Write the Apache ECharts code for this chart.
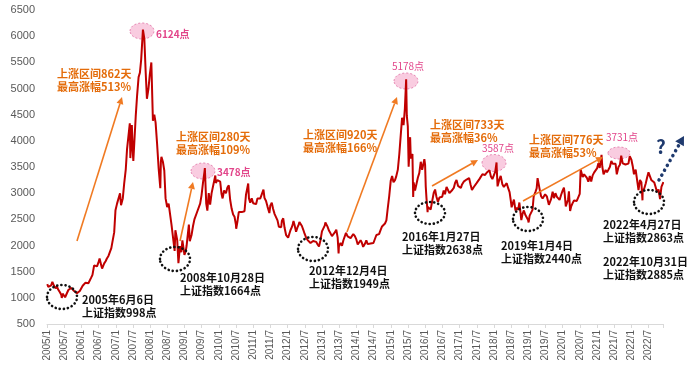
<!DOCTYPE html>
<html><head><meta charset="utf-8">
<script src="https://cdn.jsdelivr.net/npm/echarts@6/dist/echarts.min.js"></script>
<style>html,body{margin:0;padding:0;background:#fff}#c{width:700px;height:372px}</style>
</head><body><div id="c"></div>
<script>
// Shanghai Composite, approximate readings (date -> index level)
const dates = [
'2005-01-04','2005-01-15','2005-01-31','2005-02-15','2005-02-28','2005-03-15','2005-03-31','2005-04-15','2005-04-29','2005-05-15','2005-05-31','2005-06-06','2005-06-15','2005-06-30','2005-07-11','2005-07-29','2005-08-15','2005-08-31','2005-09-15','2005-09-30','2005-10-15','2005-10-31','2005-11-15','2005-11-30','2005-12-15','2005-12-30',
'2006-01-15','2006-01-26','2006-02-15','2006-02-28','2006-03-15','2006-03-31','2006-04-15','2006-04-28','2006-05-15','2006-05-31','2006-06-15','2006-06-30','2006-07-12','2006-07-31','2006-08-08','2006-08-31','2006-09-15','2006-09-29','2006-10-15','2006-10-31','2006-11-15','2006-11-30','2006-12-15','2006-12-29',
'2007-01-15','2007-01-31','2007-02-16','2007-02-27','2007-03-15','2007-03-30','2007-04-16','2007-04-30','2007-05-29','2007-05-31','2007-06-04','2007-06-20','2007-06-29','2007-07-05','2007-07-31','2007-08-15','2007-08-31','2007-09-14','2007-09-28','2007-10-16','2007-10-31','2007-11-15','2007-11-28','2007-12-14','2007-12-28',
'2008-01-14','2008-01-31','2008-02-15','2008-02-29','2008-03-14','2008-03-31','2008-04-18','2008-04-24','2008-04-30','2008-05-15','2008-05-30','2008-06-13','2008-06-30','2008-07-15','2008-07-31','2008-08-15','2008-08-29','2008-09-18','2008-09-26','2008-10-15','2008-10-28','2008-11-14','2008-11-28','2008-12-09','2008-12-31',
'2009-01-15','2009-01-23','2009-02-17','2009-02-27','2009-03-15','2009-03-31','2009-04-15','2009-04-30','2009-05-15','2009-05-27','2009-06-15','2009-06-30','2009-07-15','2009-07-31','2009-08-04','2009-08-19','2009-08-31','2009-09-15','2009-09-30','2009-10-15','2009-10-30','2009-11-24','2009-11-30','2009-12-15','2009-12-31',
'2010-01-15','2010-01-29','2010-02-10','2010-02-26','2010-03-15','2010-03-31','2010-04-15','2010-04-30','2010-05-15','2010-05-31','2010-06-15','2010-06-30','2010-07-02','2010-07-15','2010-07-30','2010-08-15','2010-08-31','2010-09-15','2010-09-30','2010-10-15','2010-10-29','2010-11-08','2010-11-16','2010-11-30','2010-12-15','2010-12-31',
'2011-01-15','2011-01-31','2011-02-15','2011-02-28','2011-03-15','2011-03-31','2011-04-18','2011-04-29','2011-05-15','2011-05-31','2011-06-20','2011-06-30','2011-07-15','2011-07-29','2011-08-15','2011-08-31','2011-09-15','2011-09-30','2011-10-24','2011-10-31','2011-11-15','2011-11-30','2011-12-15','2011-12-30',
'2012-01-06','2012-01-31','2012-02-15','2012-02-29','2012-03-02','2012-03-15','2012-03-30','2012-04-15','2012-04-27','2012-05-04','2012-05-31','2012-06-15','2012-06-29','2012-07-15','2012-07-31','2012-08-15','2012-08-31','2012-09-15','2012-09-28','2012-10-15','2012-10-31','2012-11-15','2012-11-30','2012-12-04','2012-12-15','2012-12-31',
'2013-01-15','2013-01-31','2013-02-06','2013-02-28','2013-03-15','2013-03-29','2013-04-15','2013-04-26','2013-05-15','2013-05-31','2013-06-15','2013-06-25','2013-06-28','2013-07-15','2013-07-31','2013-08-15','2013-08-30','2013-09-12','2013-09-30','2013-10-15','2013-10-31','2013-11-15','2013-11-29','2013-12-15','2013-12-31',
'2014-01-15','2014-01-30','2014-02-15','2014-02-28','2014-03-12','2014-03-31','2014-04-15','2014-04-30','2014-05-15','2014-05-30','2014-06-15','2014-06-30','2014-07-15','2014-07-31','2014-08-15','2014-08-29','2014-09-15','2014-09-30','2014-10-15','2014-10-31','2014-11-15','2014-11-28','2014-12-15','2014-12-31',
'2015-01-15','2015-01-30','2015-02-15','2015-02-27','2015-03-15','2015-03-31','2015-04-15','2015-04-30','2015-05-15','2015-05-29','2015-06-12','2015-06-19','2015-06-30','2015-07-08','2015-07-24','2015-07-31','2015-08-18','2015-08-26','2015-08-31','2015-09-15','2015-09-30','2015-10-15','2015-10-30','2015-11-15','2015-11-30','2015-12-23','2015-12-31',
'2016-01-07','2016-01-15','2016-01-27','2016-01-29','2016-02-15','2016-02-29','2016-03-15','2016-03-31','2016-04-15','2016-04-29','2016-05-15','2016-05-31','2016-06-15','2016-06-30','2016-07-15','2016-07-29','2016-08-15','2016-08-31','2016-09-15','2016-09-30','2016-10-15','2016-10-31','2016-11-15','2016-11-30','2016-12-15','2016-12-30',
'2017-01-15','2017-01-26','2017-02-15','2017-02-28','2017-03-15','2017-03-31','2017-04-11','2017-04-28','2017-05-11','2017-05-31','2017-06-15','2017-06-30','2017-07-15','2017-07-31','2017-08-15','2017-08-31','2017-09-15','2017-09-29','2017-10-15','2017-10-31','2017-11-14','2017-11-30','2017-12-15','2017-12-29',
'2018-01-15','2018-01-29','2018-01-31','2018-02-09','2018-02-28','2018-03-12','2018-03-30','2018-04-15','2018-04-27','2018-05-15','2018-05-31','2018-06-15','2018-06-29','2018-07-06','2018-07-31','2018-08-17','2018-08-31','2018-09-15','2018-09-28','2018-10-18','2018-10-31','2018-11-15','2018-11-30','2018-12-15','2018-12-28',
'2019-01-04','2019-01-15','2019-01-31','2019-02-15','2019-02-28','2019-03-15','2019-03-29','2019-04-08','2019-04-30','2019-05-15','2019-05-31','2019-06-15','2019-06-28','2019-07-15','2019-07-31','2019-08-06','2019-08-30','2019-09-16','2019-09-30','2019-10-15','2019-10-31','2019-11-15','2019-11-29','2019-12-15','2019-12-31',
'2020-01-14','2020-01-23','2020-02-03','2020-02-28','2020-03-06','2020-03-19','2020-03-31','2020-04-15','2020-04-30','2020-05-15','2020-05-29','2020-06-15','2020-06-30','2020-07-09','2020-07-31','2020-08-15','2020-08-31','2020-09-15','2020-09-30','2020-10-15','2020-10-30','2020-11-15','2020-11-30','2020-12-15','2020-12-31',
'2021-01-15','2021-01-29','2021-02-18','2021-02-26','2021-03-09','2021-03-31','2021-04-15','2021-04-30','2021-05-15','2021-05-31','2021-06-15','2021-06-30','2021-07-15','2021-07-28','2021-07-30','2021-08-15','2021-08-31','2021-09-14','2021-09-30','2021-10-15','2021-10-29','2021-11-15','2021-11-30','2021-12-13','2021-12-31',
'2022-01-14','2022-01-28','2022-02-15','2022-02-28','2022-03-15','2022-03-31','2022-04-15','2022-04-27','2022-04-29','2022-05-15','2022-05-31','2022-06-15','2022-06-30','2022-07-05','2022-07-29','2022-08-15','2022-08-31','2022-09-15','2022-09-30','2022-10-15','2022-10-31','2022-11-15','2022-11-30','2022-12-05'
];
const values = [
1260,1210,1191,1240,1306,1230,1181,1220,1159,1110,1060,998,1080,1080,1011,1083,1150,1162,1190,1155,1130,1092,1090,1099,1130,1161,
1230,1258,1290,1299,1280,1298,1390,1440,1620,1641,1600,1672,1750,1612,1560,1658,1700,1752,1800,1837,1950,2099,2250,2675,
2800,2786,2998,2771,2900,3183,3450,3841,4334,4109,3670,4300,3820,3615,4471,4870,5218,5300,5552,6124,5954,5300,4803,5000,5261,
5497,4383,4500,4348,3950,3472,3094,3600,3693,3600,3433,2900,2736,2800,2775,2400,2397,1895,2293,2100,1664,1990,1871,2100,1820,
1900,1990,2400,2082,2200,2373,2500,2477,2650,2632,2800,2959,3200,3412,3478,2800,2667,3000,2779,3000,2996,3338,3195,3250,3277,
3220,2989,2900,3051,3000,3109,3150,2870,2700,2592,2550,2398,2320,2450,2638,2650,2638,2600,2655,2970,2979,3186,2900,2820,2900,2808,
2800,2790,2900,2905,2900,2928,3067,2911,2850,2743,2620,2762,2820,2701,2600,2567,2480,2359,2350,2468,2520,2333,2200,2199,
2148,2292,2350,2428,2470,2380,2263,2350,2396,2450,2373,2300,2225,2150,2103,2100,2047,2030,2086,2100,2069,2020,1980,1949,2100,2269,
2300,2385,2440,2365,2280,2237,2180,2177,2250,2301,2150,1849,1979,2050,1994,2100,2098,2240,2175,2200,2141,2150,2220,2180,2116,
2020,2033,2100,2056,1974,2033,2100,2026,2020,2039,2070,2048,2060,2201,2220,2217,2300,2364,2380,2420,2480,2683,2950,3235,
3330,3210,3250,3310,3450,3748,4100,4441,4300,4612,5178,4480,4277,3507,4070,3664,3750,2927,3206,3050,3053,3300,3383,3600,3446,3650,3539,
3125,2900,2638,2738,2750,2688,2850,3004,3070,2938,2830,2917,2880,2930,3050,2979,3120,3085,3000,3005,3060,3100,3200,3250,3140,3104,
3100,3159,3220,3242,3260,3223,3290,3155,3060,3117,3130,3192,3200,3273,3250,3361,3370,3349,3390,3393,3440,3317,3270,3307,
3410,3587,3481,3130,3259,3330,3169,3120,3082,3190,3095,3020,2847,2730,2876,2668,2725,2680,2821,2486,2603,2670,2588,2590,2494,
2440,2570,2585,2680,2941,3020,3091,3288,3078,2940,2898,2880,2979,2940,2932,2777,2886,3030,2905,3000,2929,2900,2871,2970,3050,
3106,2977,2746,2880,3034,2660,2750,2810,2860,2870,2852,2890,2985,3450,3310,3360,3396,3290,3218,3330,3225,3340,3392,3370,3473,
3570,3483,3731,3509,3360,3442,3400,3447,3500,3615,3560,3591,3560,3361,3397,3500,3544,3715,3568,3570,3547,3530,3564,3708,3640,
3520,3361,3450,3462,3060,3252,3210,2863,3047,3090,3186,3300,3399,3405,3253,3280,3202,3200,3024,3070,2885,3120,3151,3212
];
const startYear = 2005;
const yTicks = {min: 500, max: 6500, interval: 500};
const tickEveryMonths = 6;
const lastMonthIndex = 215;

function monthIndex(s) {
  const [y, m, d] = s.split('-').map(Number);
  return (y - startYear) * 12 + (m - 1) + (d - 1) / 31;
}
const seriesData = dates.map((d, i) => [monthIndex(d), values[i]]);

const chart = echarts.init(document.getElementById('c'));
const FONT = '"Noto Sans CJK SC","Microsoft YaHei",sans-serif';
const ORANGE = '#E46C0A';
const PINK = '#E2458A';
const BLACK = '#111';

function txt(x, y, text, color, size, weight, align) {
  return {type: 'text', z: 100, style: {x, y, text, fill: color, font: (weight || 'bold') + ' ' + size + 'px ' + FONT, align: align || 'left', verticalAlign: 'middle', lineHeight: 13}};
}
function pinkEllipse(cx, cy, rx, ry) {
  return {type: 'ellipse', z: 0, zlevel: 0, shape: {cx, cy, rx, ry}, style: {fill: '#F9CCE0', stroke: '#E78AB5', lineWidth: 1, lineDash: [2, 2]}};
}
function dotCircle(cx, cy, rx, ry) {
  return {type: 'ellipse', z: 100, shape: {cx, cy, rx, ry}, style: {fill: 'none', stroke: '#111', lineWidth: 2.6, lineDash: [0.1, 4], lineCap: 'round'}};
}
function arrow(x1, y1, x2, y2, color, dashed) {
  const ang = Math.atan2(y2 - y1, x2 - x1);
  const L = dashed ? 9 : 7, W = dashed ? 5 : 3.5;
  const bx = x2 - L * Math.cos(ang), by = y2 - L * Math.sin(ang);
  const px = -Math.sin(ang) * W, py = Math.cos(ang) * W;
  return [
    {type: 'line', z: 100, shape: {x1, y1, x2: bx, y2: by}, style: dashed ? {stroke: color, lineWidth: 3.5, lineDash: [0.1, 5.5], lineCap: 'round'} : {stroke: color, lineWidth: 1.6}},
    {type: 'polygon', z: 100, shape: {points: [[x2, y2], [bx + px, by + py], [bx - px, by - py]]}, style: {fill: color}}
  ];
}

const graphics = [
  pinkEllipse(142, 31, 12, 8), pinkEllipse(203, 171, 12, 8), pinkEllipse(406, 81, 12, 8),
  pinkEllipse(494, 163, 12, 8.5), pinkEllipse(619, 153, 11, 6),
  txt(156, 34, '6124点', PINK, 10), txt(217, 172, '3478点', PINK, 10), txt(408, 66, '5178点', PINK, 10, 'normal', 'center'),
  txt(498, 148, '3587点', PINK, 10, 'normal', 'center'), txt(622, 137, '3731点', PINK, 10, 'normal', 'center'),
  dotCircle(62, 297, 15, 12), dotCircle(175, 259, 15, 12), dotCircle(313, 249, 15, 12),
  dotCircle(430, 213, 15, 11), dotCircle(528, 219, 15, 12), dotCircle(649, 202, 15, 12),
  txt(82, 306, '2005年6月6日\n上证指数998点', BLACK, 11),
  txt(180, 284, '2008年10月28日\n上证指数1664点', BLACK, 11),
  txt(309, 277, '2012年12月4日\n上证指数1949点', BLACK, 11),
  txt(402, 243, '2016年1月27日\n上证指数2638点', BLACK, 11),
  txt(501, 252, '2019年1月4日\n上证指数2440点', BLACK, 11),
  txt(603, 231, '2022年4月27日\n上证指数2863点', BLACK, 11),
  txt(603, 268, '2022年10月31日\n上证指数2885点', BLACK, 11),
  txt(57, 80, '上涨区间862天\n最高涨幅513%', ORANGE, 11),
  txt(176, 143, '上涨区间280天\n最高涨幅109%', ORANGE, 11),
  txt(303, 141, '上涨区间920天\n最高涨幅166%', ORANGE, 11),
  txt(430, 131, '上涨区间733天\n最高涨幅36%', ORANGE, 11),
  txt(529, 146, '上涨区间776天\n最高涨幅53%', ORANGE, 11),
  ...arrow(77, 241, 122, 97, '#F07A22'),
  ...arrow(180, 241, 193, 182, '#F07A22'),
  ...arrow(347, 232, 397, 97, '#F07A22'),
  ...arrow(432, 186, 478, 160, '#F07A22'),
  ...arrow(523, 201, 603, 157, '#F07A22'),
  ...arrow(659, 180, 684, 136, '#1F3A6E', true),
  txt(661, 147, '?', '#1F3A6E', 19, 'bold', 'center')
];

chart.setOption({
  animation: false,
  backgroundColor: '#fff',
  grid: {left: 47, right: 37, top: 10, bottom: 48},
  xAxis: {
    type: 'value', min: 0, max: lastMonthIndex, interval: tickEveryMonths,
    axisLine: {lineStyle: {color: '#d9d9d9'}},
    axisTick: {show: true, length: 4, lineStyle: {color: '#d9d9d9'}},
    splitLine: {show: false},
    axisLabel: {rotate: 90, margin: 6, fontSize: 10, color: '#595959', fontFamily: 'Liberation Sans, Arial',
      formatter: v => (v % tickEveryMonths === 0 && v < lastMonthIndex) ? (startYear + Math.floor(v / 12)) + '/' + (v % 12 + 1) : ''},
  },
  yAxis: {
    type: 'value', min: yTicks.min, max: yTicks.max, interval: yTicks.interval,
    axisLine: {show: false}, axisTick: {show: false}, splitLine: {show: false},
    axisLabel: {fontSize: 11, color: '#595959', margin: 12, fontFamily: 'Liberation Sans, Arial', formatter: v => String(v)}
  },
  series: [{
    type: 'line', data: seriesData, showSymbol: false, z: 10,
    lineStyle: {color: '#C00000', width: 2}, itemStyle: {color: '#C00000'}
  }],
  graphic: graphics
});
</script>
</body></html>
